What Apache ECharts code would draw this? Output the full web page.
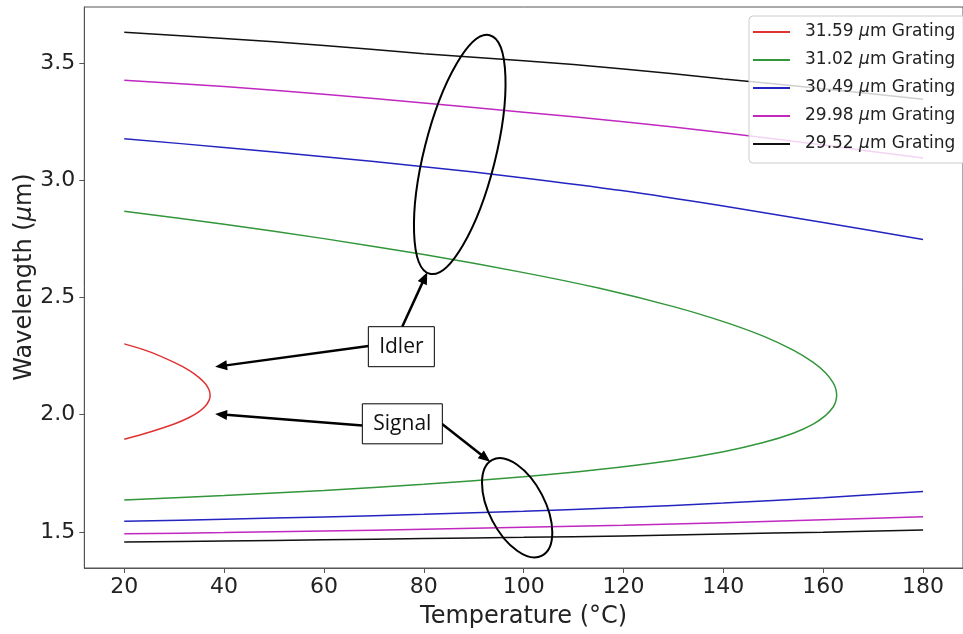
<!DOCTYPE html>
<html><head><meta charset="utf-8">
<script src="https://cdn.jsdelivr.net/npm/echarts@6/dist/echarts.min.js"></script>
<style>html,body{margin:0;padding:0;background:#fff}#c{width:963px;height:634px}</style>
</head><body><div id="c"></div>
<script>
// ---- tick labels ----
const xTicks = [20, 40, 60, 80, 100, 120, 140, 160, 180];
const yTicks = [1.5, 2.0, 2.5, 3.0, 3.5];

// ---- series names ----
const gratingNames = ['31.59 μm Grating', '31.02 μm Grating', '30.49 μm Grating', '29.98 μm Grating', '29.52 μm Grating'];

// ---- 31.59 µm grating (closed loop: signal -> degeneracy -> idler) ----
const redT = [20, 25, 30, 33, 35, 36.3, 37.0, 37.2, 37.0, 36.3, 35, 33, 30, 25, 20];
const redL = [1.895, 1.925, 1.96, 1.988, 2.013, 2.038, 2.062, 2.084, 2.105, 2.131, 2.158, 2.189, 2.223, 2.269, 2.302];

// ---- 31.02 µm grating (closed loop) ----
const greenT = [20, 40, 60, 80, 100, 115, 130, 140, 148, 154, 158, 160.5, 162, 162.5, 162.7,
                162.5, 162, 160.5, 158, 154, 148, 140, 130, 115, 100, 80, 60, 40, 20];
const greenL = [1.636, 1.655, 1.677, 1.703, 1.735, 1.766, 1.806, 1.842, 1.881, 1.921, 1.960, 1.997, 2.033, 2.056, 2.083,
                2.111, 2.136, 2.178, 2.223, 2.275, 2.335, 2.397, 2.461, 2.540, 2.606, 2.683, 2.751, 2.812, 2.868];

// ---- remaining gratings: idler / signal vs temperature ----
const temps = [20, 40, 60, 80, 100, 120, 140, 160, 180];
const blueIdler    = [3.177, 3.140, 3.100, 3.058, 3.010, 2.955, 2.890, 2.820, 2.747];
const blueSignal   = [1.545, 1.554, 1.564, 1.575, 1.588, 1.604, 1.623, 1.646, 1.672];
const magentaIdler = [3.427, 3.400, 3.367, 3.330, 3.290, 3.250, 3.203, 3.150, 3.095];
const magentaSignal= [1.492, 1.497, 1.504, 1.511, 1.520, 1.528, 1.539, 1.552, 1.565];
const blackIdler   = [3.631, 3.605, 3.575, 3.540, 3.510, 3.475, 3.432, 3.390, 3.345];
const blackSignal  = [1.457, 1.461, 1.466, 1.472, 1.477, 1.483, 1.491, 1.499, 1.508];

const colors = ['#e03232', '#32963a', '#2424c0', '#c028c0', '#111111'];

function zip(xs, ys) { return xs.map((x, i) => [x, ys[i]]); }

const seriesList = [];
function addSeries(name, color, data, smooth) {
  seriesList.push({
    type: 'line', name: name, data: data, showSymbol: false, symbol: 'none',
    smooth: smooth, color: color, lineStyle: { color: color, width: 1.5 },
    emphasis: { disabled: true }, animation: false, z: 2
  });
}
addSeries(gratingNames[0], colors[0], zip(redT, redL), 0.3);
addSeries(gratingNames[1], colors[1], zip(greenT, greenL), 0.3);
addSeries(gratingNames[2], colors[2], zip(temps, blueIdler), 0.3);
addSeries(gratingNames[2], colors[2], zip(temps, blueSignal), 0.3);
addSeries(gratingNames[3], colors[3], zip(temps, magentaIdler), 0.3);
addSeries(gratingNames[3], colors[3], zip(temps, magentaSignal), 0.3);
addSeries(gratingNames[4], colors[4], zip(temps, blackIdler), 0.3);
addSeries(gratingNames[4], colors[4], zip(temps, blackSignal), 0.3);

const axisColor = '#555';
const labelFont = { fontSize: 22, fontFamily: 'DejaVu Sans', color: '#222' };

const chart = echarts.init(document.getElementById('c'), null, { renderer: 'canvas' });
chart.setOption({
  animation: false,
  backgroundColor: '#fff',
  grid: { left: 84.3, right: -10.7, top: 7, bottom: 61.3, show: true, borderColor: axisColor, borderWidth: 1, containLabel: false },
  xAxis: {
    type: 'value', min: 12, max: 188,
    name: 'Temperature (°C)', nameLocation: 'middle', nameGap: 37,
    nameTextStyle: { fontSize: 24, fontFamily: 'DejaVu Sans', color: '#222' },
    axisLine: { show: true, lineStyle: { color: axisColor, width: 1 } },
    axisTick: { show: true, length: 5, lineStyle: { color: axisColor }, customValues: xTicks },
    axisLabel: Object.assign({ margin: 8, customValues: xTicks, formatter: v => String(v) }, labelFont),
    splitLine: { show: false }
  },
  yAxis: {
    type: 'value', min: 1.346, max: 3.739,
    axisLine: { show: true, lineStyle: { color: axisColor, width: 1 } },
    axisTick: { show: true, length: 5, lineStyle: { color: axisColor }, customValues: yTicks },
    axisLabel: Object.assign({ margin: 9, customValues: yTicks, formatter: v => v.toFixed(1) }, labelFont),
    splitLine: { show: false }
  },
  legend: {
    data: gratingNames, orient: 'vertical', left: 749, top: 16,
    padding: [6, 12, 9, 4], icon: 'rect', itemWidth: 37, itemHeight: 2, itemGap: 8,
    backgroundColor: 'rgba(255,255,255,0.8)', borderColor: '#ccc', borderWidth: 1, borderRadius: 4,
    formatter: n => n.replace('μ', '{i|μ}'),
    textStyle: { fontSize: 17, fontFamily: 'DejaVu Sans', color: '#222', lineHeight: 20, padding: [0, 0, 0, 10],
      rich: { i: { fontSize: 17, fontFamily: 'DejaVu Sans', fontStyle: 'italic', color: '#222', lineHeight: 20 } } },
    selectedMode: false, z: 10
  },
  series: seriesList
});

// ---- annotations anchored in data coordinates ----
const idlerBox  = { at: [75.5, 2.290], text: 'Idler',  w: 66, h: 40 };
const signalBox = { at: [75.7, 1.961], text: 'Signal', w: 80, h: 40 };
const arrowsData = [
  { from: [69.3, 2.294], to: [38.2, 2.204] },
  { from: [75.7, 2.376], to: [80.7, 2.608] },
  { from: [67.7, 1.954], to: [38.2, 2.003] },
  { from: [83.6, 1.961], to: [93.3, 1.799] }
];
const ellipsesData = [
  { at: [87.2, 3.110], rx: 35.7, ry: 123, rot: -0.246 },
  { at: [98.7, 1.603], rx: 28, ry: 54, rot: 0.478 }
];

const px = p => chart.convertToPixel({ gridIndex: 0 }, p);
const g = [];
ellipsesData.forEach(e => {
  const c = px(e.at);
  g.push({ type: 'ellipse', x: c[0], y: c[1], rotation: e.rot, z: 50,
    shape: { cx: 0, cy: 0, rx: e.rx, ry: e.ry }, style: { fill: 'none', stroke: '#000', lineWidth: 2 } });
});
arrowsData.forEach(a => {
  const p0 = px(a.from), p1 = px(a.to);
  const dx = p1[0] - p0[0], dy = p1[1] - p0[1], len = Math.hypot(dx, dy);
  const ux = dx / len, uy = dy / len, hl = 12, hw = 5;
  const b = [p1[0] - ux * hl, p1[1] - uy * hl];
  g.push({ type: 'line', z: 60, shape: { x1: p0[0], y1: p0[1], x2: b[0] + ux, y2: b[1] + uy }, style: { stroke: '#000', lineWidth: 2.5 } });
  g.push({ type: 'polygon', z: 60, shape: { points: [p1, [b[0] - uy * hw, b[1] + ux * hw], [b[0] + uy * hw, b[1] - ux * hw]] }, style: { fill: '#000' } });
});
[idlerBox, signalBox].forEach(bx => {
  const c = px(bx.at);
  g.push({ type: 'rect', z: 70, shape: { x: c[0] - bx.w / 2, y: c[1] - bx.h / 2, width: bx.w, height: bx.h },
    style: { fill: '#fff', stroke: '#000', lineWidth: 1 } });
  g.push({ type: 'text', z: 71, x: c[0], y: c[1],
    style: { text: bx.text, fontSize: 21, fontFamily: 'Open Sans', fill: '#111', align: 'center', verticalAlign: 'middle' } });
});
// y-axis title
g.push({ type: 'text', z: 71, x: 25, y: 277, rotation: Math.PI / 2,
  style: { text: 'Wavelength ({i|μ}m)', fontSize: 24, fontFamily: 'DejaVu Sans', fill: '#222', align: 'center', verticalAlign: 'middle',
    rich: { i: { fontSize: 24, fontFamily: 'DejaVu Sans', fontStyle: 'italic', fill: '#222' } } } });
chart.setOption({ graphic: g });
</script>
</body></html>
